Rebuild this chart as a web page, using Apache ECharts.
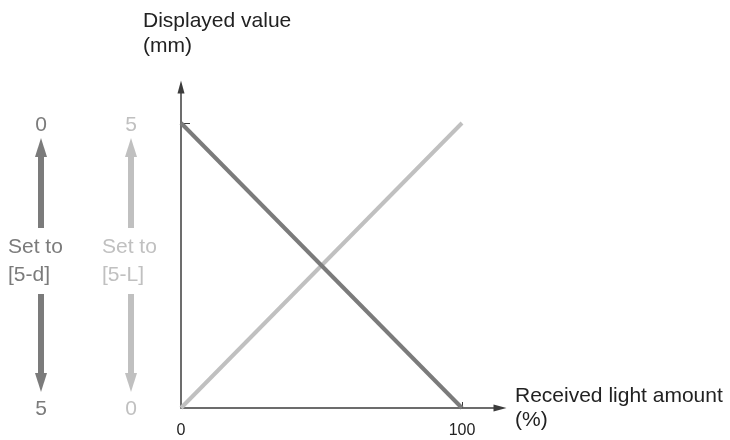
<!DOCTYPE html>
<html>
<head>
<meta charset="utf-8">
<script src="https://cdn.jsdelivr.net/npm/echarts@6/dist/echarts.min.js"></script>
<style>
  html, body { margin: 0; padding: 0; background: #fff; }
  #chart { width: 730px; height: 440px; }
</style>
</head>
<body>
<div id="chart"></div>
<script>
// received light amount (%) at the two ends of each line
const lightAmount = [0, 100];
// "Set to [5-d]" : displayed value falls as light rises
const setTo5d = [5, 0];
// "Set to [5-L]" : displayed value rises with light
const setTo5L = [0, 5];
const xTickLabels = [0, 100];
const yTicks = [5];

const DARK = "#7b7b7b";
const LIGHT = "#c0c0c0";
const AXIS = "#3c3c3c";
const FONT = "Arial, 'Liberation Sans', sans-serif";

const chart = echarts.init(document.getElementById("chart"));

// little vertical arrows on the left side, drawn as graphics
function arrow(cx, y0, y1, color) {
  // shaft from y0 to y1, head at y1
  const dir = y1 > y0 ? 1 : -1;
  const headLen = 19, headW = 12, shaftW = 6;
  const baseY = y1 - dir * headLen;
  return {
    type: "group",
    silent: true,
    children: [
      {
        type: "rect",
        shape: { x: cx - shaftW / 2, y: Math.min(y0, baseY), width: shaftW, height: Math.abs(baseY - y0) },
        style: { fill: color },
      },
      {
        type: "polygon",
        shape: { points: [[cx - headW / 2, baseY], [cx + headW / 2, baseY], [cx, y1]] },
        style: { fill: color },
      },
    ],
  };
}

function label(text, x, y, color, align) {
  return {
    type: "text",
    silent: true,
    style: {
      text: text,
      x: x,
      y: y,
      fill: color,
      font: "21px " + FONT,
      align: align || "center",
      verticalAlign: "middle",
      lineHeight: 28,
    },
  };
}

const option = {
  animation: false,
  textStyle: { fontFamily: FONT },
  grid: { left: 181, right: 230, top: 87, bottom: 32, containLabel: false },
  xAxis: {
    type: "value",
    min: 0,
    max: 113.52,
    name: "Received light amount\n(%)",
    nameLocation: "end",
    nameGap: 15,
    nameTextStyle: { fontSize: 21, color: "#222", lineHeight: 24, align: "left" },
    splitLine: { show: false },
    axisLine: {
      lineStyle: { color: AXIS, width: 1.5 },
      symbol: ["none", "triangle"],
      symbolSize: [7, 13],
    },
    axisTick: { show: true, inside: true, length: 6, customValues: [100], lineStyle: { color: AXIS } },
    axisLabel: { customValues: xTickLabels, fontSize: 16, color: "#222", margin: 15 },
  },
  yAxis: {
    type: "value",
    min: 0,
    max: 5.6316,
    splitLine: { show: false },
    axisLine: {
      show: true,
      lineStyle: { color: AXIS, width: 1.5 },
      symbol: ["none", "triangle"],
      symbolSize: [7, 13],
    },
    axisTick: { show: true, inside: true, length: 9, customValues: yTicks, lineStyle: { color: AXIS } },
    axisLabel: { show: false },
  },
  series: [
    {
      name: "Set to [5-L]",
      type: "line",
      data: lightAmount.map((x, i) => [x, setTo5L[i]]),
      showSymbol: false,
      lineStyle: { color: LIGHT, width: 4 },
      z: 2,
    },
    {
      name: "Set to [5-d]",
      type: "line",
      data: lightAmount.map((x, i) => [x, setTo5d[i]]),
      showSymbol: false,
      lineStyle: { color: DARK, width: 4 },
      z: 3,
    },
  ],
  graphic: [
    {
      type: "text",
      silent: true,
      style: {
        text: "Displayed value\n(mm)",
        x: 143,
        y: 9,
        fill: "#222",
        font: "21px " + FONT,
        lineHeight: 25,
      },
    },
    // dark column: Set to [5-d]
    label("0", 41, 125, DARK),
    arrow(41, 228, 138, DARK),
    label("Set to\n[5-d]", 8, 261, DARK, "left"),
    arrow(41, 294, 392, DARK),
    label("5", 41, 409, DARK),
    // light column: Set to [5-L]
    label("5", 131, 125, LIGHT),
    arrow(131, 228, 138, LIGHT),
    label("Set to\n[5-L]", 102, 261, LIGHT, "left"),
    arrow(131, 294, 392, LIGHT),
    label("0", 131, 409, LIGHT),
  ],
};

chart.setOption(option);
</script>
</body>
</html>
